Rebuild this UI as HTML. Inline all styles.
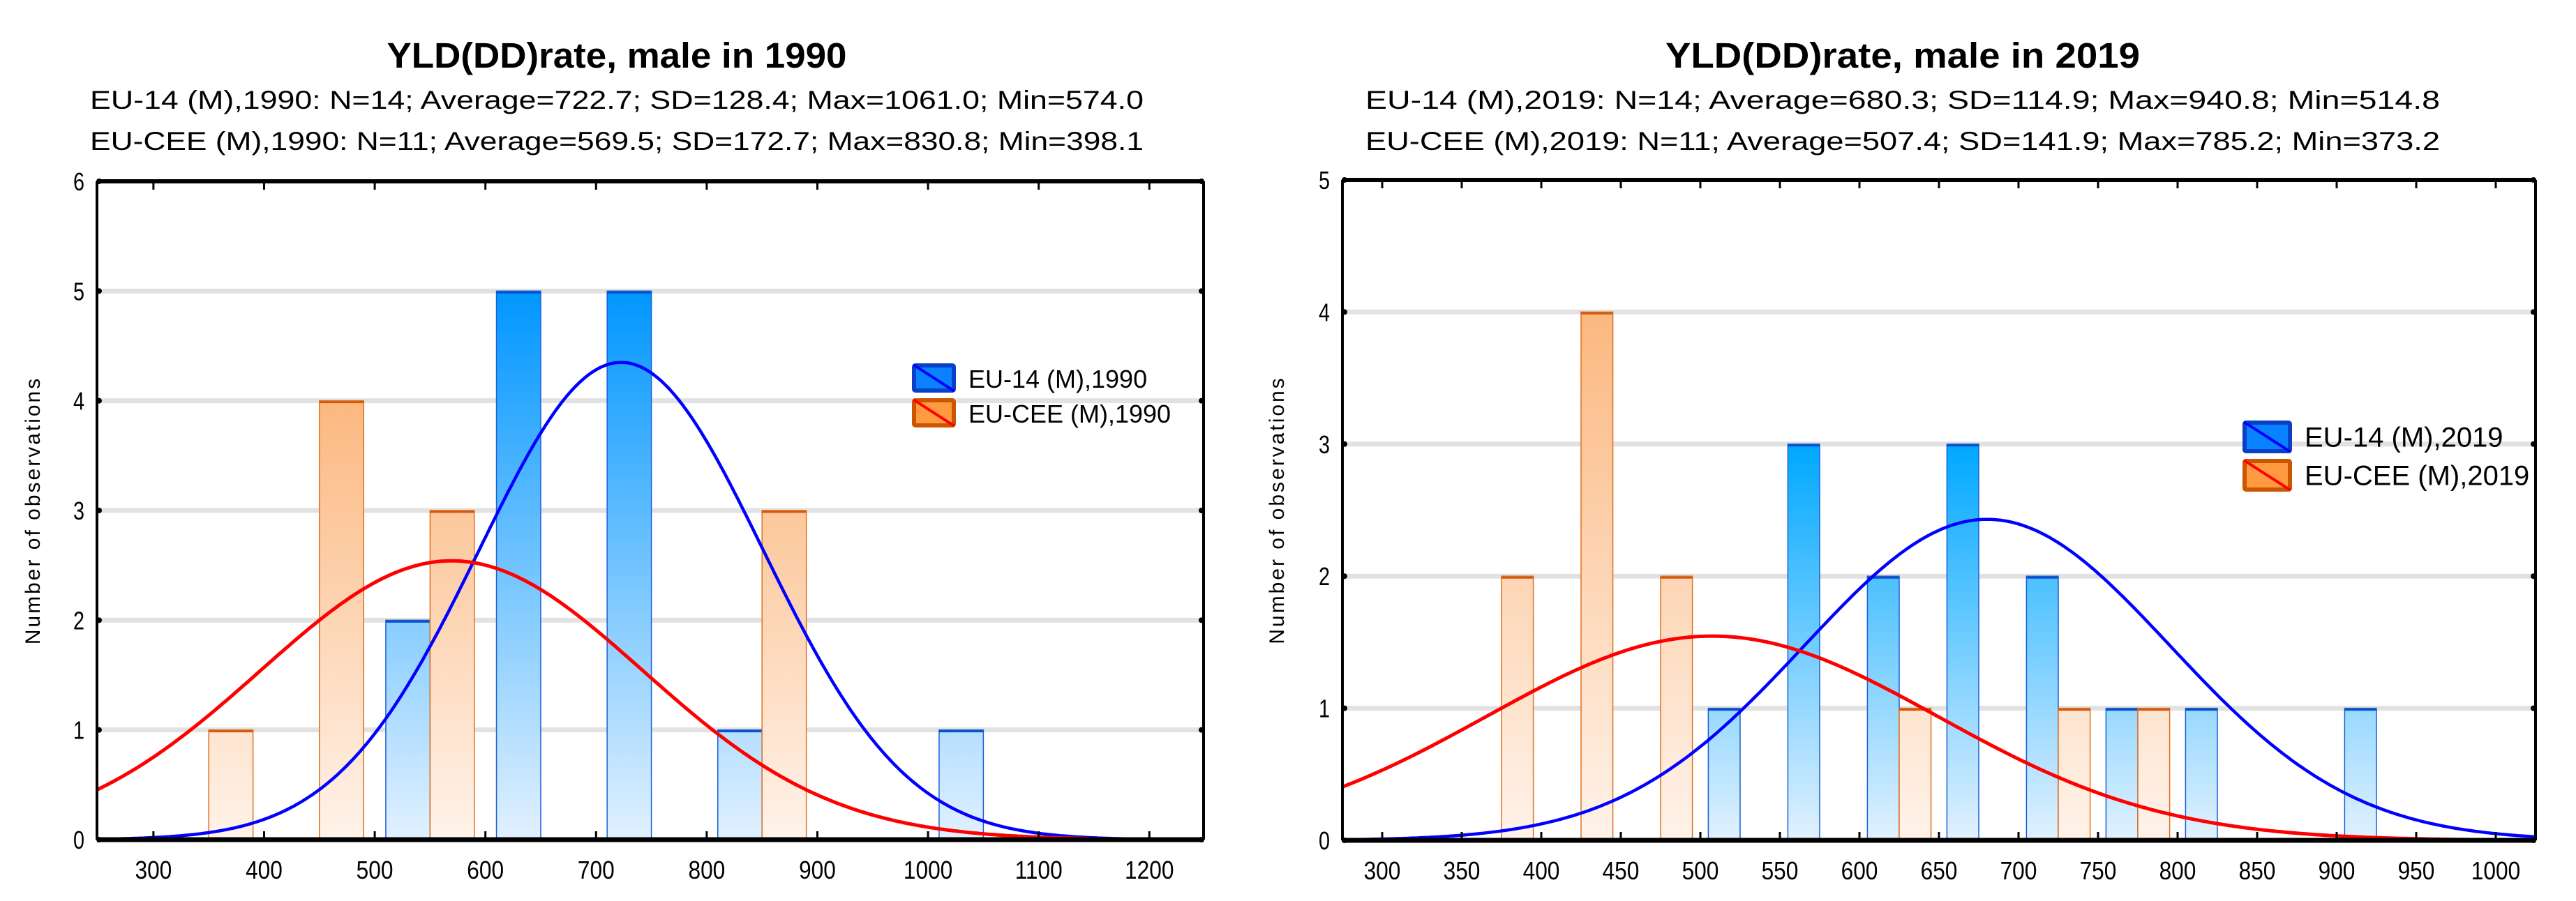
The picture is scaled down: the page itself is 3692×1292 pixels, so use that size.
<!DOCTYPE html>
<html><head><meta charset="utf-8"><style>
html,body{margin:0;padding:0;background:#fff}
svg{display:block}
text{font-family:"Liberation Sans",sans-serif;fill:#000}
</style></head><body>
<svg id="root" width="3692" height="1292" viewBox="0 0 3692 1292" xmlns="http://www.w3.org/2000/svg">
<defs>
<linearGradient id="gb1" gradientUnits="userSpaceOnUse" x1="0" y1="417" x2="0" y2="1204"><stop offset="0" stop-color="#0096ff"/><stop offset="1" stop-color="#e2f1ff"/></linearGradient>
<linearGradient id="go1" gradientUnits="userSpaceOnUse" x1="0" y1="574" x2="0" y2="1204"><stop offset="0" stop-color="#fbb880"/><stop offset="1" stop-color="#fff3ea"/></linearGradient>
<linearGradient id="gb2" gradientUnits="userSpaceOnUse" x1="0" y1="638" x2="0" y2="1205"><stop offset="0" stop-color="#00a8ff"/><stop offset="1" stop-color="#e2f1ff"/></linearGradient>
<linearGradient id="go2" gradientUnits="userSpaceOnUse" x1="0" y1="449" x2="0" y2="1205"><stop offset="0" stop-color="#fbb880"/><stop offset="1" stop-color="#fff3ea"/></linearGradient>
<clipPath id="c1"><rect x="139" y="260" width="1586" height="944"/></clipPath>
<clipPath id="c2"><rect x="1924" y="258" width="1710" height="947"/></clipPath>
</defs>
</svg>
<script>
// ---- chart 1 (1990) data ----
const bins1 = [300, 400, 500, 600, 700, 800, 900, 1000];
const eu14_1990 = [0, 0, 2, 5, 5, 1, 0, 1];
const cee_1990 = [1, 4, 3, 0, 0, 3, 0, 0];
const xTicks1 = [300, 400, 500, 600, 700, 800, 900, 1000, 1100, 1200];
const yTicks1 = [0, 1, 2, 3, 4, 5, 6];
const stats1990 = [722.7, 128.4, 14, 569.5, 172.7, 11];
// ---- chart 2 (2019) data ----
const bins2 = [350, 400, 450, 500, 550, 600, 650, 700, 750, 800, 850, 900];
const eu14_2019 = [0, 0, 0, 1, 3, 2, 3, 2, 1, 1, 0, 1];
const cee_2019 = [2, 4, 2, 0, 0, 1, 0, 1, 1, 0, 0, 0];
const xTicks2 = [300, 350, 400, 450, 500, 550, 600, 650, 700, 750, 800, 850, 900, 950, 1000];
const yTicks2 = [0, 1, 2, 3, 4, 5];
const stats2019 = [680.3, 114.9, 14, 507.4, 141.9, 11];

const NS = "http://www.w3.org/2000/svg";
const root = document.getElementById('root');
function mk(tag, attrs, parent, txt){
  const e = document.createElementNS(NS, tag);
  for (const k in attrs) e.setAttribute(k, attrs[k]);
  if (txt !== undefined) e.textContent = txt;
  (parent || root).appendChild(e);
  return e;
}
function pdf(x, m, s){ return Math.exp(-0.5*((x-m)/s)**2)/(s*Math.sqrt(2*Math.PI)); }

function chart(cfg){
  const g = mk('g', {});
  
  
  const X = v => cfg.L + (v - cfg.x0)/(cfg.x1 - cfg.x0)*(cfg.R - cfg.L);
  const Y = v => cfg.B - v/cfg.ymax*(cfg.B - cfg.T);
  // titles
  let t = mk('text', {x: cfg.titleX, y: 97, 'font-size': 51, 'font-weight': 'bold', 'text-anchor': 'middle', textLength: cfg.titleW, lengthAdjust: 'spacingAndGlyphs'}, g, cfg.title);
  
  
  cfg.subs.forEach((s, i) => {
    const st = mk('text', {x: cfg.titleX, y: 156 + i*59, 'font-size': 37, 'text-anchor': 'middle', textLength: cfg.subW, lengthAdjust: 'spacingAndGlyphs'}, g, s);
    
    
  });
  // gridlines
  cfg.yTicks.forEach(v => {
    if (v > 0 && v < cfg.ymax) {
      const gl = mk('line', {x1: cfg.L, x2: cfg.R, y1: Y(v), y2: Y(v), stroke: '#e2e2e2', 'stroke-width': 7}, g);
      
      
    }
    mk('circle', {cx: cfg.L+3, cy: Y(v), r: 4, fill: '#000'}, g);
    mk('circle', {cx: cfg.R-3, cy: Y(v), r: 4, fill: '#000'}, g);
    const tl = mk('text', {x: cfg.L - 18, y: Y(v) + 13, 'font-size': 36, 'text-anchor': 'end', transform: `translate(${cfg.L-18} 0) scale(0.8 1) translate(${-(cfg.L-18)} 0)`}, g, String(v));
    
    
  });
  // bars
  const bg = mk('g', {'clip-path': cfg.clip}, g);
  cfg.bins.forEach((b, i) => {
    const vb = cfg.blue[i], vo = cfg.orange[i];
    if (vb > 0) {
      const r = mk('rect', {x: X(b + cfg.bo[0]), y: Y(vb), width: X(b + cfg.bo[1]) - X(b + cfg.bo[0]), height: Y(0) - Y(vb), fill: cfg.gb, stroke: '#1a5fd8', 'stroke-width': 1.5}, bg);
      
      
      mk('line', {x1: X(b + cfg.bo[0]), x2: X(b + cfg.bo[1]), y1: Y(vb)+2, y2: Y(vb)+2, stroke: '#0a50c8', 'stroke-width': 3}, bg);
    }
    if (vo > 0) {
      const r = mk('rect', {x: X(b + cfg.oo[0]), y: Y(vo), width: X(b + cfg.oo[1]) - X(b + cfg.oo[0]), height: Y(0) - Y(vo), fill: cfg.go, stroke: '#e0701e', 'stroke-width': 1.5}, bg);
      
      
      mk('line', {x1: X(b + cfg.oo[0]), x2: X(b + cfg.oo[1]), y1: Y(vo)+2, y2: Y(vo)+2, stroke: '#d05a10', 'stroke-width': 3}, bg);
    }
  });
  // curves
  const st = cfg.stats;
  [[st[0], st[1], st[2], '#0000ff', 'normal-fit-eu14', 4.5], [st[3], st[4], st[5], '#ff0000', 'normal-fit-eucee', 5]].forEach(c => {
    let d = '';
    for (let k = 0; k <= 400; k++) {
      const x = cfg.x0 + (cfg.x1 - cfg.x0)*k/400;
      const y = c[2]*cfg.bw*pdf(x, c[0], c[1]);
      d += (k ? 'L' : 'M') + X(x).toFixed(1) + ',' + Y(y).toFixed(1);
    }
    const p = mk('path', {d, fill: 'none', stroke: c[3], 'stroke-width': c[5]}, bg);
    
    
  });
  // frame
  mk('line', {x1: cfg.L, x2: cfg.R, y1: cfg.T, y2: cfg.T, stroke: '#000', 'stroke-width': 6}, g);
  mk('line', {x1: cfg.L, x2: cfg.R, y1: cfg.B, y2: cfg.B, stroke: '#000', 'stroke-width': 7}, g);
  mk('line', {x1: cfg.L, x2: cfg.L, y1: cfg.T, y2: cfg.B, stroke: '#000', 'stroke-width': 4}, g);
  mk('line', {x1: cfg.R, x2: cfg.R, y1: cfg.T, y2: cfg.B, stroke: '#000', 'stroke-width': 4}, g);
  cfg.xTicks.forEach(v => {
    mk('line', {x1: X(v), x2: X(v), y1: cfg.T, y2: cfg.T + 12, stroke: '#000', 'stroke-width': 3}, g);
    mk('line', {x1: X(v), x2: X(v), y1: cfg.B, y2: cfg.B - 12, stroke: '#000', 'stroke-width': 3}, g);
    const xl = mk('text', {x: X(v), y: cfg.B + 56, 'font-size': 36, 'text-anchor': 'middle', transform: `translate(${X(v)} 0) scale(0.88 1) translate(${-X(v)} 0)`}, g, String(v));
    
    
  });
  // y title
  const yc = (cfg.T + cfg.B)/2;
  const yt = mk('text', {x: cfg.ytX, y: yc, 'font-size': 30, 'text-anchor': 'middle', 'letter-spacing': 3, transform: `rotate(-90 ${cfg.ytX} ${yc})`}, g, 'Number of observations');
  
  
  // legend
  const lg = mk('g', {}, g);
  
  
  [['#0a82ff', '#0a40c8', '#0000ff', cfg.leg[0]], ['#ff9a40', '#cc5500', '#ff0000', cfg.leg[1]]].forEach((e, i) => {
    const ly = cfg.legY + i*cfg.legDy;
    const eg = mk('g', {}, lg);
    
    
    mk('rect', {x: cfg.legX + 3, y: ly + 3, width: cfg.legW - 6, height: cfg.legH - 6, fill: e[0], stroke: e[1], 'stroke-width': 6, rx: 2}, eg);
    mk('line', {x1: cfg.legX + 2, y1: ly + 2, x2: cfg.legX + cfg.legW - 2, y2: ly + cfg.legH - 2, stroke: e[2], 'stroke-width': 4}, eg);
    mk('text', {x: cfg.legX + cfg.legW + 18, y: ly + cfg.legH/2 + 14, 'font-size': cfg.legFs}, eg, e[3]);
  });
}

chart({name: 'chart-1990', L: 139, R: 1725, T: 260, B: 1204, x0: 249, x1: 1249, ymax: 6, bw: 100,
  bins: bins1, blue: eu14_1990, orange: cee_1990, bo: [10, 50], oo: [50, 90], gb: 'url(#gb1)', go: 'url(#go1)', clip: 'url(#c1)',
  xTicks: xTicks1, yTicks: yTicks1, stats: stats1990,
  title: 'YLD(DD)rate, male in 1990', titleX: 884, titleW: 659, subW: 1510,
  subs: ['EU-14 (M),1990: N=14; Average=722.7; SD=128.4; Max=1061.0; Min=574.0', 'EU-CEE (M),1990: N=11; Average=569.5; SD=172.7; Max=830.8; Min=398.1'],
  ytX: 57, leg: ['EU-14 (M),1990', 'EU-CEE (M),1990'], legX: 1307, legY: 521, legDy: 50, legW: 63, legH: 42, legFs: 36});

chart({name: 'chart-2019', L: 1924, R: 3634, T: 258, B: 1205, x0: 275, x1: 1025, ymax: 5, bw: 50,
  bins: bins2, blue: eu14_2019, orange: cee_2019, bo: [5, 25], oo: [25, 45], gb: 'url(#gb2)', go: 'url(#go2)', clip: 'url(#c2)',
  xTicks: xTicks2, yTicks: yTicks2, stats: stats2019,
  title: 'YLD(DD)rate, male in 2019', titleX: 2727, titleW: 680, subW: 1540,
  subs: ['EU-14 (M),2019: N=14; Average=680.3; SD=114.9; Max=940.8; Min=514.8', 'EU-CEE (M),2019: N=11; Average=507.4; SD=141.9; Max=785.2; Min=373.2'],
  ytX: 1840, leg: ['EU-14 (M),2019', 'EU-CEE (M),2019'], legX: 3214, legY: 603, legDy: 55, legW: 71, legH: 47, legFs: 40});
</script>
</body></html>
